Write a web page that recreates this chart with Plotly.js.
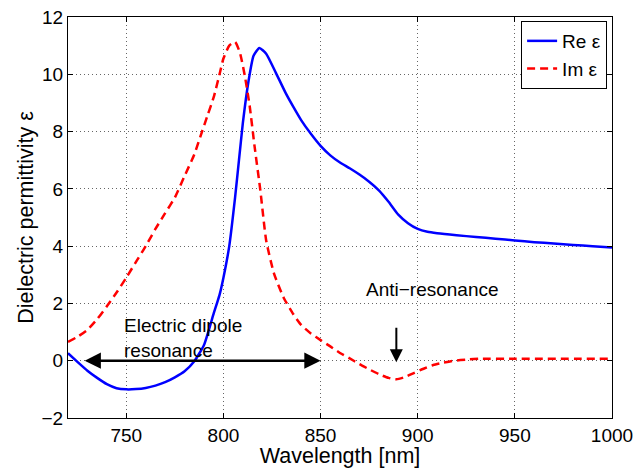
<!DOCTYPE html>
<html>
<head>
<meta charset="utf-8">
<script src="https://cdn.plot.ly/plotly-3.0.1.min.js"></script>
<style>html,body{margin:0;padding:0;background:#fff}#chart{width:634px;height:468px}</style>
</head>
<body>
<div id="chart"></div>
<script>
const reWl = [720,725,730,735,740,745,750,755,760,765,770,775,780,785,790,795,798,800,803,806,808,810,813,815.5,818.5,822,827,832,836,840,845,850,855,860,865,870,875,880,885,890,895,900,905,910,920,930,940,950,960,970,980,990,1000];
const reEps = [0.26,-0.05,-0.35,-0.6,-0.82,-0.96,-1.0,-0.99,-0.95,-0.87,-0.75,-0.58,-0.37,-0.02,0.55,1.65,2.3,2.9,4.0,5.7,7.0,8.3,9.8,10.65,10.92,10.72,10.05,9.35,8.86,8.4,7.92,7.5,7.17,6.92,6.72,6.5,6.25,5.95,5.55,5.1,4.8,4.6,4.5,4.45,4.38,4.32,4.26,4.2,4.14,4.09,4.04,4.0,3.95];

const imWl = [720,725,730,735,740,745,750,755,760,765,770,775,780,785,788,792,795,798,800,803,806,808.5,811,813.5,816,819,822,826,831,836,840,845,850,855,860,865,870,875,880,885,889,893,898,903,908,913,919,925,932,950,1000];
const imEps = [0.66,0.84,1.08,1.45,1.9,2.38,2.9,3.45,4.0,4.6,5.15,5.7,6.45,7.2,7.8,8.6,9.2,10.0,10.55,11.0,11.13,10.75,9.95,8.9,7.5,5.95,4.2,3.05,2.2,1.62,1.25,0.95,0.72,0.5,0.27,0.08,-0.12,-0.3,-0.47,-0.6,-0.65,-0.58,-0.43,-0.28,-0.15,-0.07,0.0,0.04,0.07,0.07,0.07];

const seriesNames = ['Re ε', 'Im ε'];
const xTicks = [750,800,850,900,950,1000];
const yTicks = [-2,0,2,4,6,8,10,12];
const xTitle = 'Wavelength [nm]';
const yTitle = 'Dielectric permittivity ε';
const dipoleText = 'Electric dipole<br>resonance';
const antiText = 'Anti−resonance';
const dipoleArrow = {from: 727.8, to: 850, y: 0};
const antiArrow = {x: 889, from: 1.2, to: -0.05};

const FONT = 'Liberation Sans, Arial, Helvetica, sans-serif';

const traces = [
  {x: reWl, y: reEps, name: seriesNames[0], type: 'scatter', mode: 'lines',
   line: {color: '#0000ff', width: 2.5, shape: 'spline', smoothing: 0.5}},
  {x: imWl, y: imEps, name: seriesNames[1], type: 'scatter', mode: 'lines',
   line: {color: '#ff0000', width: 2.5, dash: '8px,5px', shape: 'spline', smoothing: 0.5}}
];

const axisCommon = {
  showline: true, linecolor: '#000', linewidth: 1, mirror: 'allticks',
  ticks: 'inside', ticklen: 5, tickcolor: '#000', tickwidth: 1,
  showgrid: true, gridcolor: '#666', gridwidth: 1, griddash: '1px,3px',
  zeroline: false, tickfont: {family: FONT, size: 19, color: '#000'}
};

const layout = {
  width: 634, height: 468,
  margin: {l: 68, r: 22, t: 17, b: 50},
  paper_bgcolor: '#fff', plot_bgcolor: '#fff',
  font: {family: FONT, color: '#000'},
  xaxis: Object.assign({}, axisCommon, {
    range: [720, 1000], tickvals: xTicks, ticktext: xTicks.map(String),
    title: {text: xTitle, font: {family: FONT, size: 21.5, color: '#000'}, standoff: 2}
  }),
  yaxis: Object.assign({}, axisCommon, {
    range: [-2, 12], tickvals: yTicks,
    title: {text: yTitle, font: {family: FONT, size: 21.5, color: '#000'}, standoff: 2}
  }),
  showlegend: true,
  legend: {
    x: 0.991, y: 0.99, xanchor: 'right', yanchor: 'top',
    bgcolor: '#fff', bordercolor: '#000', borderwidth: 1,
    font: {family: FONT, size: 19, color: '#000'},
    tracegroupgap: 0, itemwidth: 30
  },
  annotations: [
    {x: 748, y: 0.8, xref: 'x', yref: 'y', text: dipoleText, showarrow: false,
     xanchor: 'left', yanchor: 'middle', align: 'left',
     font: {family: FONT, size: 19, color: '#000'}},
    {x: 907.4, y: 2.5, xref: 'x', yref: 'y', text: antiText, showarrow: false,
     xanchor: 'center', yanchor: 'middle',
     font: {family: FONT, size: 19, color: '#000'}},
    {x: dipoleArrow.to, y: dipoleArrow.y, ax: dipoleArrow.from, ay: dipoleArrow.y,
     xref: 'x', yref: 'y', axref: 'x', ayref: 'y', text: '', showarrow: true,
     arrowhead: 2, startarrowhead: 2, arrowside: 'end+start', arrowsize: 1.3, startarrowsize: 1.3,
     arrowwidth: 2.5, arrowcolor: '#000', standoff: 0, startstandoff: 0},
    {x: antiArrow.x, y: antiArrow.to, ax: antiArrow.x, ay: antiArrow.from,
     xref: 'x', yref: 'y', axref: 'x', ayref: 'y', text: '', showarrow: true,
     arrowhead: 2, arrowsize: 1.3, arrowwidth: 2, arrowcolor: '#000', standoff: 0}
  ]
};

Plotly.newPlot('chart', traces, layout, {displayModeBar: false, staticPlot: true});
</script>
</body>
</html>
